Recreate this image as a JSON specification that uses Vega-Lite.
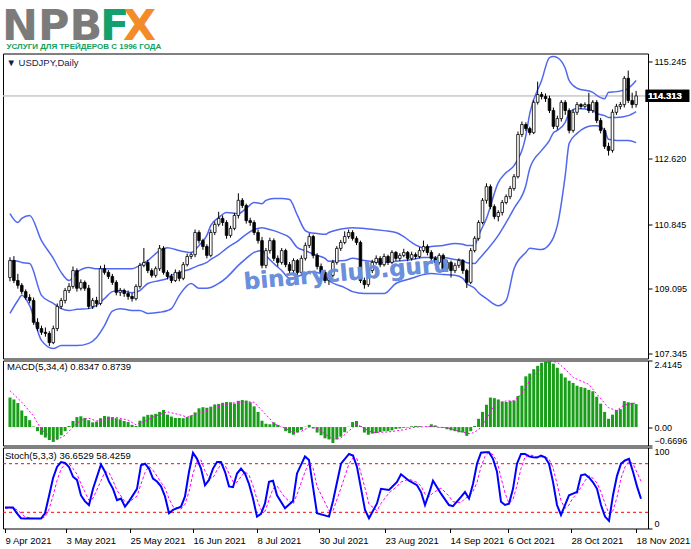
{
  "$schema": "https://vega.github.io/schema/vega-lite/v6.json",
  "padding": {"top": 5.5, "left": 0, "right": 0, "bottom": 0},
  "background": "#ffffff",
  "spacing": 2,
  "bounds": "flush",
  "config": {
    "view": {"stroke": "#000000", "strokeWidth": 1},
    "axis": {"labelFont": "Liberation Sans", "labelFontSize": 9, "labelColor": "#000000", "tickColor": "#000000", "domain": false, "grid": false, "title": null, "tickSize": 4, "labelOverlap": false}
  },
  "datasets": {
    "bars": [
      {"i":0,"o":109.40,"h":109.95,"l":109.30,"c":109.86},{"i":1,"o":109.86,"h":109.98,"l":109.25,"c":109.32},{"i":2,"o":109.32,"h":109.50,"l":109.10,"c":109.19},{"i":3,"o":109.19,"h":109.25,"l":108.95,"c":109.02},{"i":4,"o":109.02,"h":109.08,"l":108.80,"c":108.86},
      {"i":5,"o":108.86,"h":108.95,"l":108.70,"c":108.78},{"i":6,"o":108.78,"h":108.86,"l":108.12,"c":108.19},{"i":7,"o":108.19,"h":108.30,"l":107.95,"c":108.02},{"i":8,"o":108.02,"h":108.10,"l":107.85,"c":107.92},{"i":9,"o":107.92,"h":108.05,"l":107.80,"c":107.89},
      {"i":10,"o":107.89,"h":107.95,"l":107.55,"c":107.64},{"i":11,"o":107.64,"h":108.10,"l":107.60,"c":108.02},{"i":12,"o":108.02,"h":108.70,"l":107.95,"c":108.62},{"i":13,"o":108.62,"h":108.85,"l":108.55,"c":108.78},{"i":14,"o":108.78,"h":109.12,"l":108.70,"c":109.05},
      {"i":15,"o":109.05,"h":109.25,"l":108.98,"c":109.16},{"i":16,"o":109.16,"h":109.70,"l":109.10,"c":109.59},{"i":17,"o":109.59,"h":109.65,"l":109.02,"c":109.11},{"i":18,"o":109.11,"h":109.35,"l":109.05,"c":109.27},{"i":19,"o":109.27,"h":109.32,"l":109.04,"c":109.11},
      {"i":20,"o":109.11,"h":109.20,"l":108.55,"c":108.62},{"i":21,"o":108.62,"h":108.85,"l":108.55,"c":108.78},{"i":22,"o":108.78,"h":108.88,"l":108.60,"c":108.70},{"i":23,"o":108.70,"h":109.72,"l":108.65,"c":109.64},{"i":24,"o":109.64,"h":109.75,"l":109.48,"c":109.54},
      {"i":25,"o":109.54,"h":109.60,"l":109.36,"c":109.43},{"i":26,"o":109.43,"h":109.50,"l":109.20,"c":109.27},{"i":27,"o":109.27,"h":109.33,"l":108.92,"c":109.00},{"i":28,"o":109.00,"h":109.12,"l":108.90,"c":109.05},{"i":29,"o":109.05,"h":109.10,"l":108.88,"c":108.97},
      {"i":30,"o":108.97,"h":109.05,"l":108.80,"c":108.89},{"i":31,"o":108.89,"h":108.98,"l":108.75,"c":108.83},{"i":32,"o":108.83,"h":109.22,"l":108.78,"c":109.16},{"i":33,"o":109.16,"h":109.80,"l":109.10,"c":109.73},{"i":34,"o":109.73,"h":110.20,"l":109.68,"c":109.81},
      {"i":35,"o":109.81,"h":109.88,"l":109.52,"c":109.59},{"i":36,"o":109.59,"h":109.65,"l":109.40,"c":109.46},{"i":37,"o":109.46,"h":109.70,"l":109.40,"c":109.64},{"i":38,"o":109.64,"h":110.28,"l":109.58,"c":110.19},{"i":39,"o":110.19,"h":110.25,"l":109.48,"c":109.54},
      {"i":40,"o":109.54,"h":109.60,"l":109.35,"c":109.43},{"i":41,"o":109.43,"h":109.50,"l":109.25,"c":109.32},{"i":42,"o":109.32,"h":109.62,"l":109.28,"c":109.54},{"i":43,"o":109.54,"h":109.60,"l":109.30,"c":109.38},{"i":44,"o":109.38,"h":109.82,"l":109.33,"c":109.75},
      {"i":45,"o":109.75,"h":110.05,"l":109.70,"c":109.97},{"i":46,"o":109.97,"h":110.08,"l":109.90,"c":110.02},{"i":47,"o":110.02,"h":110.70,"l":109.95,"c":110.62},{"i":48,"o":110.62,"h":110.68,"l":110.32,"c":110.40},{"i":49,"o":110.40,"h":110.45,"l":110.15,"c":110.24},
      {"i":50,"o":110.24,"h":110.30,"l":109.92,"c":110.00},{"i":51,"o":110.00,"h":110.70,"l":109.95,"c":110.62},{"i":52,"o":110.62,"h":110.92,"l":110.55,"c":110.84},{"i":53,"o":110.84,"h":111.18,"l":110.78,"c":111.00},{"i":54,"o":111.00,"h":111.08,"l":110.80,"c":110.89},
      {"i":55,"o":110.89,"h":110.95,"l":110.45,"c":110.54},{"i":56,"o":110.54,"h":110.80,"l":110.48,"c":110.73},{"i":57,"o":110.73,"h":111.15,"l":110.68,"c":111.08},{"i":58,"o":111.08,"h":111.68,"l":111.00,"c":111.49},{"i":59,"o":111.49,"h":111.55,"l":111.28,"c":111.35},
      {"i":60,"o":111.35,"h":111.40,"l":110.86,"c":110.94},{"i":61,"o":110.94,"h":111.02,"l":110.80,"c":110.89},{"i":62,"o":110.89,"h":110.95,"l":110.55,"c":110.62},{"i":63,"o":110.62,"h":110.70,"l":110.32,"c":110.40},{"i":64,"o":110.40,"h":110.50,"l":109.65,"c":109.73},
      {"i":65,"o":109.73,"h":110.20,"l":109.65,"c":110.13},{"i":66,"o":110.13,"h":110.48,"l":110.05,"c":110.40},{"i":67,"o":110.40,"h":110.46,"l":109.85,"c":109.92},{"i":68,"o":109.92,"h":110.00,"l":109.70,"c":109.81},{"i":69,"o":109.81,"h":110.20,"l":109.75,"c":110.13},
      {"i":70,"o":110.13,"h":110.18,"l":109.68,"c":109.75},{"i":71,"o":109.75,"h":109.82,"l":109.50,"c":109.59},{"i":72,"o":109.59,"h":109.92,"l":109.52,"c":109.86},{"i":73,"o":109.86,"h":109.90,"l":109.45,"c":109.54},{"i":74,"o":109.54,"h":110.00,"l":109.48,"c":109.92},
      {"i":75,"o":109.92,"h":110.35,"l":109.86,"c":110.27},{"i":76,"o":110.27,"h":110.60,"l":110.20,"c":110.51},{"i":77,"o":110.51,"h":110.56,"l":109.92,"c":110.00},{"i":78,"o":110.00,"h":110.06,"l":109.62,"c":109.70},{"i":79,"o":109.70,"h":109.78,"l":109.45,"c":109.54},
      {"i":80,"o":109.54,"h":109.60,"l":109.25,"c":109.32},{"i":81,"o":109.32,"h":109.52,"l":109.20,"c":109.46},{"i":82,"o":109.46,"h":109.88,"l":109.40,"c":109.81},{"i":83,"o":109.81,"h":110.25,"l":109.75,"c":110.19},{"i":84,"o":110.19,"h":110.42,"l":110.12,"c":110.35},
      {"i":85,"o":110.35,"h":110.65,"l":110.30,"c":110.51},{"i":86,"o":110.51,"h":110.70,"l":110.45,"c":110.62},{"i":87,"o":110.62,"h":110.68,"l":110.40,"c":110.46},{"i":88,"o":110.46,"h":110.52,"l":110.28,"c":110.35},{"i":89,"o":110.35,"h":110.40,"l":109.25,"c":109.32},
      {"i":90,"o":109.32,"h":109.40,"l":109.10,"c":109.21},{"i":91,"o":109.21,"h":109.65,"l":109.15,"c":109.59},{"i":92,"o":109.59,"h":109.88,"l":109.52,"c":109.81},{"i":93,"o":109.81,"h":110.00,"l":109.75,"c":109.92},{"i":94,"o":109.92,"h":109.98,"l":109.68,"c":109.75},
      {"i":95,"o":109.75,"h":110.05,"l":109.70,"c":109.97},{"i":96,"o":109.97,"h":110.02,"l":109.74,"c":109.81},{"i":97,"o":109.81,"h":110.14,"l":109.76,"c":110.08},{"i":98,"o":110.08,"h":110.12,"l":109.85,"c":109.92},{"i":99,"o":109.92,"h":110.06,"l":109.85,"c":110.00},
      {"i":100,"o":110.00,"h":110.18,"l":109.95,"c":110.08},{"i":101,"o":110.08,"h":110.12,"l":109.84,"c":109.92},{"i":102,"o":109.92,"h":110.10,"l":109.86,"c":110.02},{"i":103,"o":110.02,"h":110.08,"l":109.90,"c":109.97},{"i":104,"o":109.97,"h":110.22,"l":109.92,"c":110.13},
      {"i":105,"o":110.13,"h":110.40,"l":110.08,"c":110.24},{"i":106,"o":110.24,"h":110.30,"l":110.00,"c":110.08},{"i":107,"o":110.08,"h":110.14,"l":109.84,"c":109.92},{"i":108,"o":109.92,"h":109.98,"l":109.72,"c":109.81},{"i":109,"o":109.81,"h":110.06,"l":109.75,"c":110.00},
      {"i":110,"o":110.00,"h":110.05,"l":109.55,"c":109.64},{"i":111,"o":109.64,"h":109.88,"l":109.56,"c":109.81},{"i":112,"o":109.81,"h":109.86,"l":109.40,"c":109.59},{"i":113,"o":109.59,"h":109.80,"l":109.52,"c":109.73},{"i":114,"o":109.73,"h":109.92,"l":109.66,"c":109.86},
      {"i":115,"o":109.86,"h":109.90,"l":109.50,"c":109.59},{"i":116,"o":109.59,"h":109.64,"l":109.12,"c":109.27},{"i":117,"o":109.27,"h":110.20,"l":109.22,"c":110.13},{"i":118,"o":110.13,"h":110.52,"l":110.08,"c":110.46},{"i":119,"o":110.46,"h":110.95,"l":110.40,"c":110.89},
      {"i":120,"o":110.89,"h":111.55,"l":110.84,"c":111.49},{"i":121,"o":111.49,"h":111.95,"l":111.40,"c":111.86},{"i":122,"o":111.86,"h":111.92,"l":111.25,"c":111.32},{"i":123,"o":111.32,"h":111.38,"l":110.98,"c":111.05},{"i":124,"o":111.05,"h":111.22,"l":110.92,"c":111.16},
      {"i":125,"o":111.16,"h":111.50,"l":111.08,"c":111.43},{"i":126,"o":111.43,"h":111.65,"l":111.38,"c":111.59},{"i":127,"o":111.59,"h":111.88,"l":111.52,"c":111.81},{"i":128,"o":111.81,"h":112.20,"l":111.75,"c":112.13},{"i":129,"o":112.13,"h":113.35,"l":112.08,"c":113.27},
      {"i":130,"o":113.27,"h":113.62,"l":113.20,"c":113.54},{"i":131,"o":113.54,"h":113.60,"l":113.36,"c":113.43},{"i":132,"o":113.43,"h":113.48,"l":113.25,"c":113.32},{"i":133,"o":113.32,"h":114.20,"l":113.28,"c":114.14},{"i":134,"o":114.14,"h":114.70,"l":114.08,"c":114.35},
      {"i":135,"o":114.35,"h":114.42,"l":114.22,"c":114.30},{"i":136,"o":114.30,"h":114.38,"l":114.15,"c":114.24},{"i":137,"o":114.24,"h":114.32,"l":113.85,"c":113.92},{"i":138,"o":113.92,"h":114.00,"l":113.42,"c":113.49},{"i":139,"o":113.49,"h":113.78,"l":113.40,"c":113.70},
      {"i":140,"o":113.70,"h":114.20,"l":113.62,"c":114.14},{"i":141,"o":114.14,"h":114.20,"l":113.80,"c":113.92},{"i":142,"o":113.92,"h":113.98,"l":113.30,"c":113.38},{"i":143,"o":113.38,"h":113.95,"l":113.32,"c":113.87},{"i":144,"o":113.87,"h":114.15,"l":113.80,"c":114.08},
      {"i":145,"o":114.08,"h":114.12,"l":113.96,"c":114.03},{"i":146,"o":114.03,"h":114.14,"l":113.98,"c":114.08},{"i":147,"o":114.08,"h":114.40,"l":113.85,"c":113.92},{"i":148,"o":113.92,"h":114.20,"l":113.85,"c":114.14},{"i":149,"o":114.14,"h":114.20,"l":113.58,"c":113.65},
      {"i":150,"o":113.65,"h":113.72,"l":113.30,"c":113.38},{"i":151,"o":113.38,"h":113.45,"l":112.88,"c":112.95},{"i":152,"o":112.95,"h":113.05,"l":112.70,"c":112.84},{"i":153,"o":112.84,"h":113.95,"l":112.78,"c":113.87},{"i":154,"o":113.87,"h":114.10,"l":113.80,"c":114.03},
      {"i":155,"o":114.03,"h":114.15,"l":113.95,"c":114.08},{"i":156,"o":114.08,"h":114.85,"l":114.00,"c":114.79},{"i":157,"o":114.79,"h":115.00,"l":114.12,"c":114.19},{"i":158,"o":114.19,"h":114.40,"l":113.98,"c":114.08},{"i":159,"o":114.08,"h":114.45,"l":114.00,"c":114.313}
    ],
    "bands": [
      {"i":0,"u":111.13,"m":109.86,"lo":108.43},{"i":2,"u":110.89,"m":109.84,"lo":108.78},{"i":3,"u":111.00,"m":109.81,"lo":108.92},{"i":5,"u":111.08,"m":109.78,"lo":108.64},
      {"i":8,"u":110.40,"m":108.92,"lo":107.70},{"i":11,"u":109.92,"m":108.70,"lo":107.48},{"i":13,"u":109.54,"m":108.56,"lo":107.56},{"i":15,"u":109.32,"m":108.51,"lo":107.56},
      {"i":17,"u":109.54,"m":108.54,"lo":107.56},{"i":20,"u":109.67,"m":108.56,"lo":107.62},{"i":22,"u":109.64,"m":108.65,"lo":107.78},{"i":24,"u":109.64,"m":108.83,"lo":108.10},
      {"i":26,"u":109.64,"m":109.02,"lo":108.49},{"i":28,"u":109.64,"m":109.05,"lo":108.56},{"i":31,"u":109.64,"m":108.99,"lo":108.51},{"i":33,"u":109.73,"m":109.05,"lo":108.51},
      {"i":35,"u":109.86,"m":109.24,"lo":108.43},{"i":38,"u":110.13,"m":109.32,"lo":108.46},{"i":40,"u":110.21,"m":109.38,"lo":108.51},{"i":41,"u":110.19,"m":109.46,"lo":108.56},
      {"i":43,"u":110.13,"m":109.54,"lo":108.92},{"i":46,"u":110.08,"m":109.64,"lo":109.24},{"i":48,"u":110.27,"m":109.73,"lo":109.11},{"i":50,"u":110.54,"m":109.81,"lo":109.11},
      {"i":51,"u":110.81,"m":109.89,"lo":109.13},{"i":53,"u":111.02,"m":110.02,"lo":109.24},{"i":55,"u":111.16,"m":110.19,"lo":109.40},{"i":58,"u":111.13,"m":110.40,"lo":109.73},
      {"i":60,"u":111.27,"m":110.57,"lo":109.92},{"i":62,"u":111.43,"m":110.70,"lo":110.08},{"i":64,"u":111.40,"m":110.75,"lo":110.13},{"i":65,"u":111.49,"m":110.73,"lo":110.00},
      {"i":67,"u":111.54,"m":110.67,"lo":109.78},{"i":69,"u":111.54,"m":110.59,"lo":109.59},{"i":71,"u":111.51,"m":110.48,"lo":109.38},{"i":73,"u":111.08,"m":110.21,"lo":109.43},
      {"i":75,"u":110.67,"m":110.13,"lo":109.51},{"i":76,"u":110.62,"m":110.08,"lo":109.56},{"i":78,"u":110.59,"m":110.00,"lo":109.54},{"i":80,"u":110.57,"m":109.92,"lo":109.43},
      {"i":81,"u":110.62,"m":109.84,"lo":109.32},{"i":85,"u":110.73,"m":109.86,"lo":109.13},{"i":87,"u":110.75,"m":109.92,"lo":109.02},{"i":90,"u":110.73,"m":109.86,"lo":108.97},
      {"i":95,"u":110.67,"m":109.81,"lo":108.97},{"i":98,"u":110.62,"m":109.84,"lo":109.24},{"i":100,"u":110.51,"m":109.86,"lo":109.32},{"i":102,"u":110.35,"m":109.89,"lo":109.38},
      {"i":105,"u":110.21,"m":109.94,"lo":109.48},{"i":107,"u":110.24,"m":109.94,"lo":109.51},{"i":110,"u":110.27,"m":109.94,"lo":109.48},{"i":113,"u":110.32,"m":109.89,"lo":109.46},
      {"i":115,"u":110.30,"m":109.86,"lo":109.38},{"i":116,"u":110.27,"m":109.80,"lo":109.24},{"i":118,"u":110.27,"m":109.78,"lo":109.11},{"i":119,"u":110.54,"m":109.89,"lo":108.99},
      {"i":121,"u":111.00,"m":110.13,"lo":108.83},{"i":124,"u":111.97,"m":110.54,"lo":108.64},{"i":126,"u":112.24,"m":110.89,"lo":108.78},{"i":128,"u":112.43,"m":111.27,"lo":109.64},
      {"i":131,"u":113.24,"m":111.89,"lo":110.08},{"i":132,"u":113.84,"m":112.35,"lo":110.19},{"i":135,"u":114.73,"m":112.84,"lo":110.16},{"i":137,"u":115.35,"m":113.11,"lo":110.30},
      {"i":138,"u":115.38,"m":113.32,"lo":110.48},{"i":139,"u":115.35,"m":113.38,"lo":110.81},{"i":141,"u":115.06,"m":113.60,"lo":112.16},{"i":142,"u":114.73,"m":113.84,"lo":113.03},
      {"i":144,"u":114.52,"m":113.97,"lo":113.30},{"i":148,"u":114.41,"m":113.92,"lo":113.51},{"i":149,"u":114.33,"m":113.84,"lo":113.51},{"i":151,"u":114.24,"m":113.78,"lo":113.38},
      {"i":152,"u":114.41,"m":113.73,"lo":113.14},{"i":154,"u":114.43,"m":113.73,"lo":113.11},{"i":157,"u":114.52,"m":113.78,"lo":113.11},{"i":159,"u":114.73,"m":113.89,"lo":113.05}
    ],
    "macd": [
      {"i":0,"h":1.07},{"i":1,"h":1.0},{"i":2,"h":0.87},{"i":3,"h":0.6},{"i":4,"h":0.4},{"i":5,"h":0.25},{"i":6,"h":0.02},{"i":7,"h":-0.15},{"i":8,"h":-0.28},{"i":9,"h":-0.38},
      {"i":10,"h":-0.47},{"i":11,"h":-0.54},{"i":12,"h":-0.45},{"i":13,"h":-0.3},{"i":14,"h":-0.15},{"i":15,"h":0.04},{"i":16,"h":0.22},{"i":17,"h":0.36},{"i":18,"h":0.39},{"i":19,"h":0.33},
      {"i":20,"h":0.25},{"i":21,"h":0.17},{"i":22,"h":0.2},{"i":23,"h":0.32},{"i":24,"h":0.4},{"i":25,"h":0.38},{"i":26,"h":0.36},{"i":27,"h":0.32},{"i":28,"h":0.28},{"i":29,"h":0.22},
      {"i":30,"h":0.18},{"i":31,"h":0.08},{"i":32,"h":0.04},{"i":33,"h":0.23},{"i":34,"h":0.38},{"i":35,"h":0.44},{"i":36,"h":0.45},{"i":37,"h":0.48},{"i":38,"h":0.55},{"i":39,"h":0.62},
      {"i":40,"h":0.45},{"i":41,"h":0.38},{"i":42,"h":0.33},{"i":43,"h":0.33},{"i":44,"h":0.32},{"i":45,"h":0.36},{"i":46,"h":0.42},{"i":47,"h":0.53},{"i":48,"h":0.68},{"i":49,"h":0.72},
      {"i":50,"h":0.7},{"i":51,"h":0.74},{"i":52,"h":0.82},{"i":53,"h":0.84},{"i":54,"h":0.88},{"i":55,"h":0.91},{"i":56,"h":0.9},{"i":57,"h":0.85},{"i":58,"h":0.95},{"i":59,"h":0.98},
      {"i":60,"h":0.96},{"i":61,"h":0.9},{"i":62,"h":0.75},{"i":63,"h":0.55},{"i":64,"h":0.23},{"i":65,"h":0.12},{"i":66,"h":0.1},{"i":67,"h":0.17},{"i":68,"h":0.08},{"i":69,"h":0.0},
      {"i":70,"h":-0.15},{"i":71,"h":-0.22},{"i":72,"h":-0.28},{"i":73,"h":-0.2},{"i":74,"h":-0.1},{"i":75,"h":0.01},{"i":76,"h":0.08},{"i":77,"h":-0.05},{"i":78,"h":-0.2},{"i":79,"h":-0.3},
      {"i":80,"h":-0.41},{"i":81,"h":-0.45},{"i":82,"h":-0.58},{"i":83,"h":-0.45},{"i":84,"h":-0.35},{"i":85,"h":-0.19},{"i":86,"h":0.01},{"i":87,"h":0.18},{"i":88,"h":0.22},{"i":89,"h":0.04},
      {"i":90,"h":-0.2},{"i":91,"h":-0.28},{"i":92,"h":-0.24},{"i":93,"h":-0.22},{"i":94,"h":-0.18},{"i":95,"h":-0.15},{"i":96,"h":-0.15},{"i":97,"h":-0.12},{"i":98,"h":-0.07},{"i":99,"h":-0.05},
      {"i":100,"h":-0.03},{"i":101,"h":-0.02},{"i":102,"h":0.03},{"i":103,"h":0.04},{"i":104,"h":0.03},{"i":105,"h":0.0},{"i":106,"h":0.02},{"i":107,"h":0.1},{"i":108,"h":0.06},{"i":109,"h":-0.02},
      {"i":110,"h":-0.03},{"i":111,"h":-0.08},{"i":112,"h":-0.12},{"i":113,"h":-0.15},{"i":114,"h":-0.19},{"i":115,"h":-0.2},{"i":116,"h":-0.32},{"i":117,"h":-0.15},{"i":118,"h":0.04},{"i":119,"h":0.3},
      {"i":120,"h":0.55},{"i":121,"h":0.81},{"i":122,"h":1.07},{"i":123,"h":1.05},{"i":124,"h":1.0},{"i":125,"h":0.93},{"i":126,"h":0.91},{"i":127,"h":0.94},{"i":128,"h":0.96},{"i":129,"h":1.13},
      {"i":130,"h":1.5},{"i":131,"h":1.84},{"i":132,"h":1.94},{"i":133,"h":2.1},{"i":134,"h":2.22},{"i":135,"h":2.33},{"i":136,"h":2.38},{"i":137,"h":2.41},{"i":138,"h":2.3},{"i":139,"h":2.15},
      {"i":140,"h":1.94},{"i":141,"h":1.8},{"i":142,"h":1.68},{"i":143,"h":1.6},{"i":144,"h":1.5},{"i":145,"h":1.45},{"i":146,"h":1.42},{"i":147,"h":1.35},{"i":148,"h":1.3},{"i":149,"h":1.1},
      {"i":150,"h":0.85},{"i":151,"h":0.55},{"i":152,"h":0.3},{"i":153,"h":0.45},{"i":154,"h":0.62},{"i":155,"h":0.65},{"i":156,"h":0.94},{"i":157,"h":0.9},{"i":158,"h":0.88},{"i":159,"h":0.8347}
    ],
    "signal": [
      {"i":0,"s":1.32},{"i":3,"s":0.9},{"i":6,"s":0.4},{"i":8,"s":-0.1},{"i":11,"s":-0.4},{"i":12,"s":-0.45},{"i":14,"s":-0.3},{"i":16,"s":0},{"i":18,"s":0.25},{"i":20,"s":0.32},
      {"i":22,"s":0.22},{"i":25,"s":0.3},{"i":27,"s":0.35},{"i":30,"s":0.25},{"i":32,"s":0.08},{"i":34,"s":0.2},{"i":37,"s":0.4},{"i":40,"s":0.55},{"i":43,"s":0.45},{"i":45,"s":0.36},
      {"i":47,"s":0.45},{"i":51,"s":0.65},{"i":54,"s":0.8},{"i":57,"s":0.88},{"i":60,"s":0.92},{"i":62,"s":0.9},{"i":64,"s":0.6},{"i":66,"s":0.3},{"i":67,"s":0.12},{"i":70,"s":-0.05},
      {"i":72,"s":-0.2},{"i":74,"s":-0.15},{"i":76,"s":0},{"i":78,"s":-0.05},{"i":80,"s":-0.25},{"i":82,"s":-0.45},{"i":84,"s":-0.4},{"i":86,"s":-0.15},{"i":88,"s":0.1},{"i":90,"s":-0.05},
      {"i":92,"s":-0.2},{"i":96,"s":-0.18},{"i":100,"s":-0.1},{"i":103,"s":0},{"i":107,"s":0.02},{"i":111,"s":-0.03},{"i":114,"s":-0.15},{"i":117,"s":-0.25},{"i":119,"s":-0.1},{"i":121,"s":0.3},
      {"i":123,"s":0.8},{"i":126,"s":0.95},{"i":128,"s":0.95},{"i":130,"s":1.2},{"i":132,"s":1.7},{"i":134,"s":2.0},{"i":137,"s":2.4},{"i":139,"s":2.35},{"i":141,"s":2.1},{"i":143,"s":1.8},
      {"i":147,"s":1.55},{"i":149,"s":1.2},{"i":152,"s":0.7},{"i":154,"s":0.6},{"i":156,"s":0.8},{"i":159,"s":0.8739}
    ],
    "stoch": [
      {"i":0,"k":25.8,"d":25},{"i":2,"k":25.8,"d":25.5},{"i":3,"k":18.8,"d":23},{"i":4,"k":12.7,"d":19},{"i":5,"k":12.2,"d":14.5},{"i":7,"k":12.2,"d":12.4},{"i":9,"k":12.2,"d":12.2},{"i":10,"k":18.8,"d":14.4},
      {"i":11,"k":40,"d":23.7},{"i":12,"k":62,"d":40},{"i":13,"k":76,"d":59},{"i":14,"k":82,"d":73},{"i":15,"k":81,"d":80},{"i":16,"k":76,"d":80},{"i":17,"k":64,"d":74},{"i":18,"k":60,"d":67},
      {"i":19,"k":40.8,"d":55},{"i":20,"k":33.5,"d":45},{"i":21,"k":29,"d":34.5},{"i":22,"k":49,"d":37},{"i":24,"k":79,"d":59},{"i":25,"k":70,"d":70},{"i":26,"k":58,"d":69},{"i":27,"k":49,"d":59},
      {"i":28,"k":35,"d":47},{"i":29,"k":37,"d":40},{"i":30,"k":27,"d":33},{"i":31,"k":33.5,"d":32.5},{"i":33,"k":49,"d":40},{"i":34,"k":78,"d":55},{"i":35,"k":80,"d":69},{"i":36,"k":74,"d":77},
      {"i":37,"k":61.6,"d":72},{"i":38,"k":58,"d":64.5},{"i":39,"k":52,"d":57},{"i":40,"k":39.6,"d":50},{"i":41,"k":18.8,"d":37},{"i":42,"k":22.9,"d":27},{"i":44,"k":27,"d":24},{"i":45,"k":39.6,"d":30},
      {"i":46,"k":70,"d":45.5},{"i":47,"k":93.5,"d":68},{"i":48,"k":86,"d":83},{"i":49,"k":74,"d":84.5},{"i":50,"k":53.4,"d":71},{"i":51,"k":60,"d":62.5},{"i":52,"k":74,"d":62.5},{"i":53,"k":82,"d":72},
      {"i":54,"k":82,"d":79},{"i":55,"k":70,"d":78},{"i":56,"k":52,"d":68},{"i":57,"k":51,"d":57.7},{"i":58,"k":67.8,"d":57},{"i":59,"k":74,"d":64},{"i":60,"k":67.8,"d":70},{"i":61,"k":55,"d":66},
      {"i":62,"k":37,"d":53},{"i":63,"k":14.7,"d":36},{"i":64,"k":18,"d":23},{"i":65,"k":31,"d":21},{"i":66,"k":57.6,"d":35.5},{"i":67,"k":59,"d":49},{"i":68,"k":41,"d":52.5},{"i":70,"k":25,"d":38},
      {"i":72,"k":34,"d":30},{"i":73,"k":68,"d":42},{"i":75,"k":89,"d":70},{"i":76,"k":84.7,"d":81},{"i":77,"k":51.5,"d":75},{"i":78,"k":18.8,"d":52},{"i":81,"k":14.7,"d":22},{"i":82,"k":34,"d":22},
      {"i":84,"k":80,"d":50},{"i":86,"k":92,"d":80},{"i":87,"k":90,"d":87},{"i":88,"k":76,"d":86},{"i":90,"k":23,"d":50},{"i":91,"k":12.7,"d":30},{"i":93,"k":31,"d":22},{"i":94,"k":49,"d":31},
      {"i":96,"k":47.6,"d":44},{"i":98,"k":57.6,"d":52},{"i":99,"k":67,"d":57.4},{"i":101,"k":59,"d":61},{"i":103,"k":53.5,"d":57},{"i":104,"k":45,"d":52.5},{"i":105,"k":29,"d":42.5},{"i":106,"k":43,"d":39},
      {"i":107,"k":59,"d":44},{"i":109,"k":43,"d":50},{"i":111,"k":29,"d":40},{"i":112,"k":27.6,"d":33},{"i":114,"k":39,"d":32},{"i":115,"k":45,"d":37},{"i":116,"k":37,"d":40},{"i":117,"k":55,"d":45.7},
      {"i":118,"k":80,"d":57},{"i":119,"k":93.5,"d":76},{"i":120,"k":94,"d":89},{"i":121,"k":94,"d":94},{"i":122,"k":86,"d":91},{"i":123,"k":70,"d":83},{"i":124,"k":33,"d":63},{"i":125,"k":29,"d":44},
      {"i":126,"k":30.5,"d":31},{"i":127,"k":49,"d":36},{"i":128,"k":80,"d":53},{"i":129,"k":92,"d":74},{"i":130,"k":92,"d":88},{"i":131,"k":89,"d":91},{"i":132,"k":88,"d":90},{"i":133,"k":87.6,"d":88},
      {"i":134,"k":90,"d":88.5},{"i":135,"k":88,"d":88.5},{"i":136,"k":80,"d":86},{"i":137,"k":57.6,"d":75},{"i":138,"k":29,"d":55.5},{"i":139,"k":16.7,"d":34.4},{"i":140,"k":29,"d":25},{"i":141,"k":41,"d":29},
      {"i":142,"k":43,"d":38},{"i":143,"k":45,"d":43},{"i":144,"k":65.7,"d":51},{"i":145,"k":67,"d":59},{"i":146,"k":63,"d":65},{"i":147,"k":57,"d":62},{"i":148,"k":49,"d":56},{"i":149,"k":29,"d":45},
      {"i":150,"k":14.7,"d":31},{"i":151,"k":9.4,"d":18},{"i":152,"k":41,"d":22},{"i":153,"k":65,"d":38.5},{"i":154,"k":80,"d":62},{"i":155,"k":84,"d":76},{"i":156,"k":86,"d":83},{"i":157,"k":70,"d":80},
      {"i":158,"k":52,"d":69},{"i":159,"k":36.6529,"d":58.4259}
    ],
    "levels": [{"lv":20},{"lv":80}]
  },
  "vconcat": [
    {
      "spacing": 0,
      "bounds": "flush",
      "hconcat": [
        {"width": 98, "height": 51, "view": {"stroke": null, "fill": "#ffffff"}, "data": {"values": []}, "mark": "point",
         "title": {"text": "NPB", "anchor": "start", "offset": -31, "baseline": "alphabetic", "dx": -1, "font": "DejaVu Sans", "fontSize": 43, "fontWeight": "bold", "color": "#7b7b7b"}},
        {"width": 29, "height": 51, "view": {"stroke": null, "fill": "#ffffff"}, "data": {"values": []}, "mark": "point",
         "title": {"text": "F", "anchor": "start", "offset": -31, "baseline": "alphabetic", "dx": -1, "font": "DejaVu Sans", "fontSize": 43, "fontWeight": "bold", "color": "#12a06c"}},
        {"width": 32, "height": 51, "view": {"stroke": null, "fill": "#ffffff"}, "data": {"values": []}, "mark": "point",
         "title": {"text": "X", "anchor": "start", "offset": -31, "baseline": "alphabetic", "dx": -7, "font": "DejaVu Sans", "fontSize": 43, "fontWeight": "bold", "color": "#f28c28"}}
      ]
    },
    {
      "width": 645,
      "height": 305,
      "title": {"text": "УСЛУГИ ДЛЯ ТРЕЙДЕРОВ С 1996 ГОДА", "subtitle": "▼ USDJPY,Daily", "anchor": "start", "offset": -14, "dx": 4,
        "font": "Liberation Sans", "fontSize": 8, "fontWeight": "bold", "color": "#10a060",
        "subtitleFont": "Liberation Sans", "subtitleFontSize": 9.5, "subtitleColor": "#1a1a4a", "subtitlePadding": 7},
      "layer": [
        {
          "data": {"name": "levels"},
          "mark": {"type": "rule", "color": "#c8c8c8", "strokeWidth": 1},
          "encoding": {
            "y": {"datum": 114.313, "type": "quantitative",
              "scale": {"domain": [107.211, 115.461], "nice": false, "zero": false},
              "axis": {"orient": "right", "values": [107.345, 108.22, 109.095, 109.97, 110.845, 111.72, 112.62, 113.495, 115.245], "format": ".3f", "labelPadding": 2}}
          }
        },
        {
          "data": {"name": "bands"},
          "mark": {"type": "line", "color": "#5068f0", "strokeWidth": 1.5, "interpolate": "monotone"},
          "encoding": {
            "x": {"field": "i", "type": "quantitative", "scale": {"domain": [-0.5, 160.75], "nice": false, "zero": false}, "axis": null},
            "y": {"field": "u", "type": "quantitative"}
          }
        },
        {
          "data": {"name": "bands"},
          "mark": {"type": "line", "color": "#5068f0", "strokeWidth": 1.5, "interpolate": "monotone"},
          "encoding": {"x": {"field": "i", "type": "quantitative"}, "y": {"field": "m", "type": "quantitative"}}
        },
        {
          "data": {"name": "bands"},
          "mark": {"type": "line", "color": "#5068f0", "strokeWidth": 1.5, "interpolate": "monotone"},
          "encoding": {"x": {"field": "i", "type": "quantitative"}, "y": {"field": "lo", "type": "quantitative"}}
        },
        {
          "data": {"name": "bars"},
          "mark": {"type": "rule", "color": "#000000", "strokeWidth": 1},
          "encoding": {"x": {"field": "i", "type": "quantitative"}, "y": {"field": "l", "type": "quantitative"}, "y2": {"field": "h"}}
        },
        {
          "data": {"name": "bars"},
          "mark": {"type": "bar", "size": 2.6, "stroke": "#000000", "strokeWidth": 0.8, "orient": "vertical"},
          "encoding": {
            "x": {"field": "i", "type": "quantitative"},
            "y": {"field": "o", "type": "quantitative"},
            "y2": {"field": "c"},
            "fill": {"condition": {"test": "datum.c >= datum.o", "value": "#ffffff"}, "value": "#000000"}
          }
        },
        {
          "data": {"name": "levels"},
          "mark": {"type": "text", "text": "binaryclub.guru", "font": "DejaVu Sans", "fontSize": 23, "fontWeight": "bold", "color": "#6b8fdc", "opacity": 0.9, "angle": -5, "align": "center", "baseline": "middle"},
          "encoding": {"x": {"datum": 85.5, "type": "quantitative"}, "y": {"datum": 109.51, "type": "quantitative"}}
        },
        {
          "data": {"name": "levels"},
          "mark": {"type": "rect", "color": "#000000"},
          "encoding": {
            "x": {"datum": 161.4, "type": "quantitative"}, "x2": {"datum": 172.5},
            "y": {"datum": 114.48, "type": "quantitative"}, "y2": {"datum": 114.15}
          }
        },
        {
          "data": {"name": "levels"},
          "mark": {"type": "text", "text": "114.313", "font": "Liberation Sans", "fontSize": 9.5, "fontWeight": "bold", "color": "#ffffff", "align": "left", "baseline": "middle"},
          "encoding": {"x": {"datum": 162, "type": "quantitative"}, "y": {"datum": 114.313, "type": "quantitative"}}
        }
      ]
    },
    {
      "width": 645,
      "height": 85,
      "title": {"text": "MACD(5,34,4) 0.8347 0.8739", "anchor": "start", "offset": -13, "dx": 4, "font": "Liberation Sans", "fontSize": 9.5, "fontWeight": "normal", "color": "#000000"},
      "layer": [
        {
          "data": {"name": "macd"},
          "mark": {"type": "bar", "color": "#1a9e1a", "size": 3, "orient": "vertical"},
          "encoding": {
            "x": {"field": "i", "type": "quantitative", "scale": {"domain": [-0.5, 160.75], "nice": false, "zero": false}, "axis": null},
            "y": {"field": "h", "type": "quantitative", "scale": {"domain": [-0.6696, 2.4145], "nice": false, "zero": false},
              "axis": {"orient": "right", "values": [-0.6696, 0, 2.4145], "labelExpr": "datum.value == 0 ? '0.00' : format(datum.value, '.4f')", "labelFlush": true, "labelPadding": 2}}
          }
        },
        {
          "data": {"name": "signal"},
          "mark": {"type": "line", "color": "#ff00ff", "strokeWidth": 1, "strokeDash": [2, 2]},
          "encoding": {"x": {"field": "i", "type": "quantitative"}, "y": {"field": "s", "type": "quantitative"}}
        }
      ]
    },
    {
      "width": 645,
      "height": 81,
      "title": {"text": "Stoch(5,3,3) 36.6529 58.4259", "anchor": "start", "offset": -13, "dx": 4, "font": "Liberation Sans", "fontSize": 9.5, "fontWeight": "normal", "color": "#000000"},
      "layer": [
        {
          "data": {"name": "levels"},
          "mark": {"type": "rule", "color": "#ff0000", "strokeWidth": 1, "strokeDash": [3, 3]},
          "encoding": {
            "y": {"field": "lv", "type": "quantitative", "scale": {"domain": [0, 100], "nice": false},
              "axis": {"orient": "right", "values": [0, 20, 80, 100], "labelFlush": true, "labelPadding": 2}}
          }
        },
        {
          "data": {"name": "stoch"},
          "mark": {"type": "line", "color": "#ff00ff", "strokeWidth": 1, "strokeDash": [3, 2]},
          "encoding": {
            "x": {"field": "i", "type": "quantitative", "scale": {"domain": [-0.5, 160.75], "nice": false, "zero": false},
              "axis": {"orient": "bottom", "values": [0, 15.25, 31.25, 47, 63, 78.5, 95, 111.25, 125.75, 141.5, 157.75],
                "labelExpr": "datum.value < 8 ? '9 Apr 2021' : datum.value < 24 ? '3 May 2021' : datum.value < 40 ? '25 May 2021' : datum.value < 55 ? '16 Jun 2021' : datum.value < 70 ? '8 Jul 2021' : datum.value < 87 ? '30 Jul 2021' : datum.value < 103 ? '23 Aug 2021' : datum.value < 118 ? '14 Sep 2021' : datum.value < 133 ? '6 Oct 2021' : datum.value < 150 ? '28 Oct 2021' : '18 Nov 2021'",
                "labelAlign": "left", "labelPadding": 3, "labelFontSize": 9.5, "labelBound": false, "labelFlush": false}},
            "y": {"field": "d", "type": "quantitative"}
          }
        },
        {
          "data": {"name": "stoch"},
          "mark": {"type": "line", "color": "#0000ff", "strokeWidth": 2},
          "encoding": {"x": {"field": "i", "type": "quantitative"}, "y": {"field": "k", "type": "quantitative"}}
        }
      ]
    }
  ]
}
